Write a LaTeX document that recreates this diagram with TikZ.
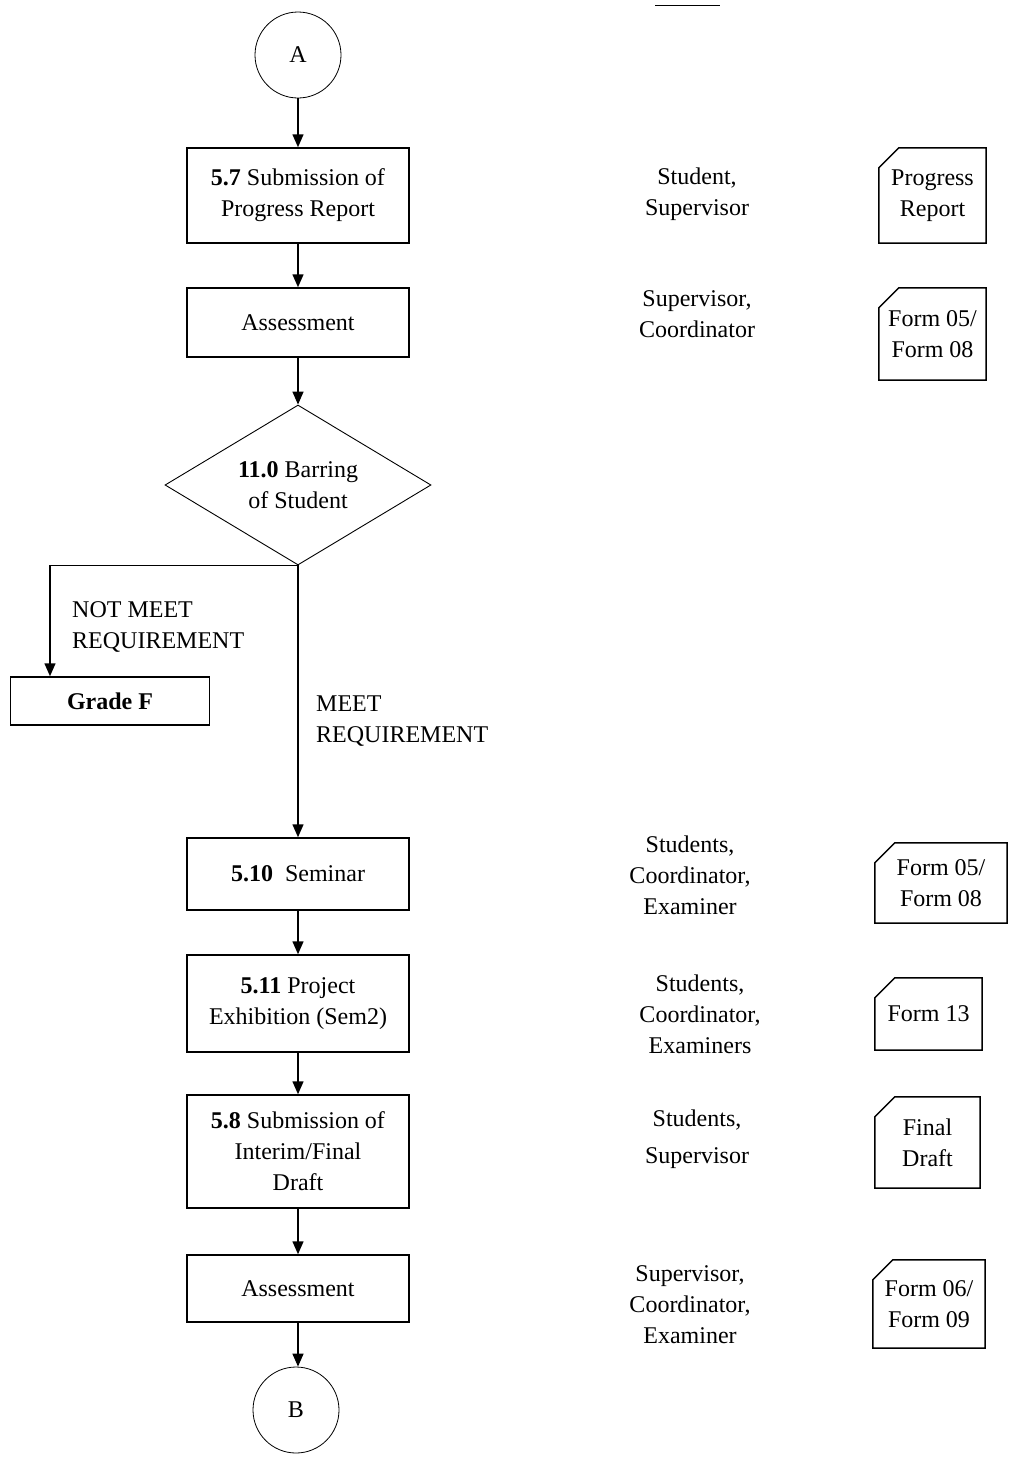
\documentclass[tikz,border=0pt]{standalone}
\usepackage{fontspec}
\setmainfont{Liberation Serif}
\usetikzlibrary{arrows.meta,shapes.geometric}
\begin{document}
\begin{tikzpicture}[x=1pt,y=-1pt,
  every node/.style={font=\fontsize{24}{31}\selectfont, align=center, inner sep=0pt},
  proc/.style={draw, line width=1.5pt, minimum width=222pt},
  conn/.style={draw, circle, line width=0.8pt, minimum size=86pt},
  decide/.style={draw, diamond, line width=0.9pt, minimum width=266pt, minimum height=160pt, shape aspect=1.66},
  role/.style={},
  docbox/.style={minimum width=107pt},
  docline/.style={line width=1.5pt, line join=miter},
  arr/.style={line width=1.5pt, -{Triangle[length=13pt,width=11pt]}},
  flow/.style={line width=1.5pt}
]
\useasboundingbox (0,0) rectangle (1011,1460);

% short rule at the top of the page
\draw[line width=1pt] (655,5) -- (720,5);

% main flow
\node[conn] (A) at (298,55) {A};
\node[proc, minimum height=95pt] (p57) at (298,195.5) {\textbf{5.7} Submission of\\Progress Report};
\node[proc, minimum height=69pt] (as1) at (298,322.5) {Assessment};
\node[decide] (bar) at (298,485) {\textbf{11.0} Barring\\of Student};
\node[proc, minimum width=199pt, minimum height=48pt] (gf) at (110,701) {\textbf{Grade F}};
\node[proc, minimum height=72pt] (sem) at (298,874) {\textbf{5.10}\ \ Seminar};
\node[proc, minimum height=97pt] (exh) at (298,1003.5) {\textbf{5.11} Project\\Exhibition (Sem2)};
\node[proc, minimum height=113pt] (p58) at (298,1151.5) {\textbf{5.8} Submission of\\Interim/Final\\Draft};
\node[proc, minimum height=67pt] (as2) at (298,1288.5) {Assessment};
\node[conn] (B) at (296,1410) {B};

\draw[arr] (A.south) -- (A.south |- p57.north);
\draw[arr] (p57) -- (as1);
\draw[arr] (as1) -- (bar);
\draw[arr] (bar.south) -| ([xshift=-60pt]gf.north);
\draw[arr] (bar.south) -- (sem.north);
\draw[arr] (sem) -- (exh);
\draw[arr] (exh) -- (p58);
\draw[arr] (p58) -- (as2);
\draw[arr] (as2.south) -- (as2.south |- B.north);

\node[anchor=west, align=left] (nm) at (72,627) {NOT MEET\\REQUIREMENT};
\node[anchor=west, align=left] (mr) at (316,721) {MEET\\REQUIREMENT};

% responsible persons
\node[role] (r1) at (697,194) {Student,\\Supervisor};
\node[role] (r2) at (697,314) {Supervisor,\\Coordinator};
\node[role] (r3) at (690,875) {Students,\\Coordinator,\\Examiner};
\node[role] (r4) at (700,1014) {Students,\\Coordinator,\\Examiners};
\node[role, font=\fontsize{24}{37}\selectfont] (r5) at (697,1139) {Students,\\Supervisor};
\node[role] (r6) at (690,1305) {Supervisor,\\Coordinator,\\Examiner};

% documents
\node[docbox, minimum height=95pt] (d1) at (932.5,195.5) {Progress\\Report};
\node[docbox, minimum height=92pt] (d2) at (932.5,334) {Form 05/\\Form 08};
\node[docbox, minimum width=132pt, minimum height=80pt] (d3) at (941,883) {Form 05/\\Form 08};
\node[docbox, minimum height=72pt] (d4) at (928.5,1014) {Form 13};
\node[docbox, minimum width=105pt, minimum height=91pt] (d5) at (927.5,1142.5) {Final\\Draft};
\node[docbox, minimum width=112pt, minimum height=88pt] (d6) at (929,1304) {Form 06/\\Form 09};

\foreach \d in {d1,d2,d3,d4,d5,d6}
  \draw[docline] ([yshift=-20pt]\d.north west) -- ([xshift=20pt]\d.north west)
    -- (\d.north east) -- (\d.south east) -- (\d.south west) -- cycle;
\end{tikzpicture}
\end{document}
